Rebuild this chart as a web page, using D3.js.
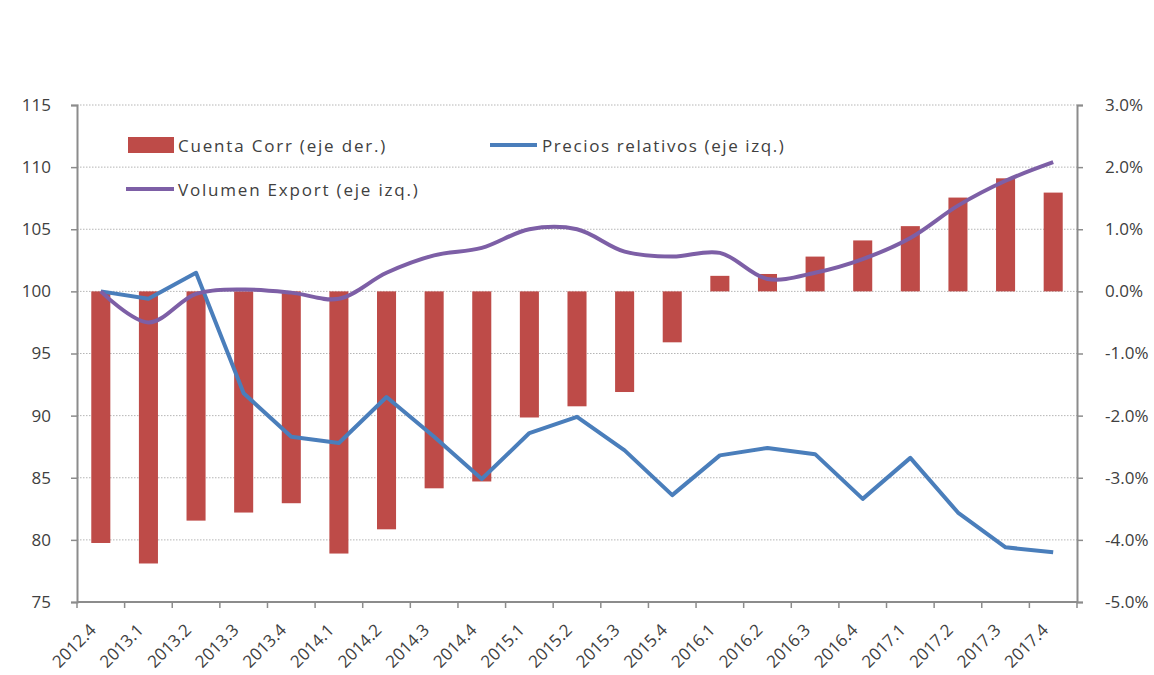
<!DOCTYPE html>
<html><head><meta charset="utf-8">
<script src="https://cdn.jsdelivr.net/npm/d3@7"></script>
<style>body{margin:0;background:#fff}svg{display:block}</style>
</head><body>
<svg id="c" width="1154" height="675"></svg>
<script>
const categories = ["2012.4","2013.1","2013.2","2013.3","2013.4","2014.1","2014.2","2014.3","2014.4","2015.1","2015.2","2015.3","2015.4","2016.1","2016.2","2016.3","2016.4","2017.1","2017.2","2017.3","2017.4"];
const cuentaCorr = [-4.05,-4.38,-3.69,-3.56,-3.41,-4.22,-3.83,-3.17,-3.06,-2.03,-1.85,-1.62,-0.82,0.25,0.28,0.56,0.82,1.05,1.51,1.82,1.59];
const preciosRelativos = [100,99.4,101.5,91.8,88.3,87.8,91.5,88.3,84.9,88.6,89.9,87.2,83.6,86.8,87.4,86.9,83.3,86.6,82.2,79.4,79.0];
const volumenExport = [100,97.5,99.8,100.15,99.9,99.4,101.5,102.9,103.5,105.0,105.0,103.2,102.8,103.1,101.0,101.5,102.6,104.3,106.9,108.9,110.4];
const leftTicks = [75,80,85,90,95,100,105,110,115];
const rightTicks = [-0.05,-0.04,-0.03,-0.02,-0.01,0,0.01,0.02,0.03];
const legendLabels = ["Cuenta Corr (eje der.)","Precios relativos (eje izq.)","Volumen Export (eje izq.)"];

const colors = {bar:"#BE4B48", blue:"#4A7EBB", purple:"#7D5FA6", axis:"#8c8c8c", grid:"#b5b5b5", text:"#404040"};
const font = "'Open Sans', sans-serif";
const L = 77, R = 1077, T = 105, B = 602;

const svg = d3.select("#c");
const x = d3.scaleBand().domain(categories).range([L, R]).paddingInner(0.6).paddingOuter(0.3);
const xc = d => x(d) + x.bandwidth()/2;
const yL = d3.scaleLinear().domain([75,115]).range([B, T]);
const yR = d3.scaleLinear().domain([-0.05,0.03]).range([B, T]);

// gridlines
svg.append("g").selectAll("line").data(leftTicks.filter(t => t !== 75)).join("line")
  .attr("x1", L).attr("x2", R).attr("y1", d => yL(d)).attr("y2", d => yL(d))
  .attr("stroke", colors.grid).attr("stroke-width", 1).attr("stroke-dasharray", "1.5,1.5");

// bars
svg.append("g").selectAll("rect").data(categories).join("rect")
  .attr("x", d => x(d)).attr("width", x.bandwidth())
  .attr("y", (d,i) => yR(Math.max(0, cuentaCorr[i]/100)))
  .attr("height", (d,i) => Math.abs(yR(cuentaCorr[i]/100) - yR(0)))
  .attr("fill", colors.bar);

// lines
const lineStraight = d3.line().x((d,i) => xc(categories[i])).y(d => yL(d));
const lineSmooth = d3.line().x((d,i) => xc(categories[i])).y(d => yL(d)).curve(d3.curveCatmullRom.alpha(0.5));
svg.append("path").datum(preciosRelativos).attr("d", lineStraight)
  .attr("fill","none").attr("stroke", colors.blue).attr("stroke-width", 4).attr("stroke-linejoin","round");
svg.append("path").datum(volumenExport).attr("d", lineSmooth)
  .attr("fill","none").attr("stroke", colors.purple).attr("stroke-width", 4).attr("stroke-linejoin","round");

// axes
const pct = d => d3.format(".1%")(d).replace("\u2212", "-");
const axL = svg.append("g").attr("transform", `translate(${L},0)`)
  .call(d3.axisLeft(yL).tickValues(leftTicks).tickSize(6).tickPadding(20).tickFormat(d3.format("d")));
const axR = svg.append("g").attr("transform", `translate(${R},0)`)
  .call(d3.axisRight(yR).tickValues(rightTicks).tickSize(6).tickPadding(22).tickFormat(pct));
const axB = svg.append("g").attr("transform", `translate(0,${B})`)
  .call(d3.axisBottom(x).tickSize(0).tickPadding(0));
[axL, axR, axB].forEach(a => {
  a.select(".domain").attr("stroke", colors.axis).attr("stroke-width", 2);
  a.selectAll(".tick line").attr("stroke", colors.axis).attr("stroke-width", 1.5);
  a.selectAll("text").attr("fill", colors.text).style("font-family", font).style("font-size", "17px");
});
axB.select(".domain").attr("d", `M${L},0H${R}`);
// between-category tick marks
const step = x.step();
axB.append("g").selectAll("line").data(d3.range(categories.length + 1)).join("line")
  .attr("x1", i => L + i*step).attr("x2", i => L + i*step).attr("y1", 0).attr("y2", 6)
  .attr("stroke", colors.axis).attr("stroke-width", 1.5);
axB.selectAll(".tick text")
  .attr("text-anchor","end").attr("dy", null).attr("y", 0)
  .attr("transform", "translate(-7,26) rotate(-45)")
  .attr("dominant-baseline","middle");

// legend
const lg = svg.append("g").style("font-family", font).style("font-size", "17px").attr("fill", colors.text);
lg.append("rect").attr("x",128).attr("y",137).attr("width",46).attr("height",16).attr("fill",colors.bar);
lg.append("text").attr("x",178).attr("y",152).text(legendLabels[0]).style("letter-spacing","1.8px");
lg.append("line").attr("x1",490).attr("x2",537).attr("y1",145).attr("y2",145).attr("stroke",colors.blue).attr("stroke-width",4);
lg.append("text").attr("x",542).attr("y",152).text(legendLabels[1]).style("letter-spacing","1.6px");
lg.append("line").attr("x1",126).attr("x2",174).attr("y1",189).attr("y2",189).attr("stroke",colors.purple).attr("stroke-width",4);
lg.append("text").attr("x",178).attr("y",196).text(legendLabels[2]).style("letter-spacing","1.8px");
</script>
</body></html>
